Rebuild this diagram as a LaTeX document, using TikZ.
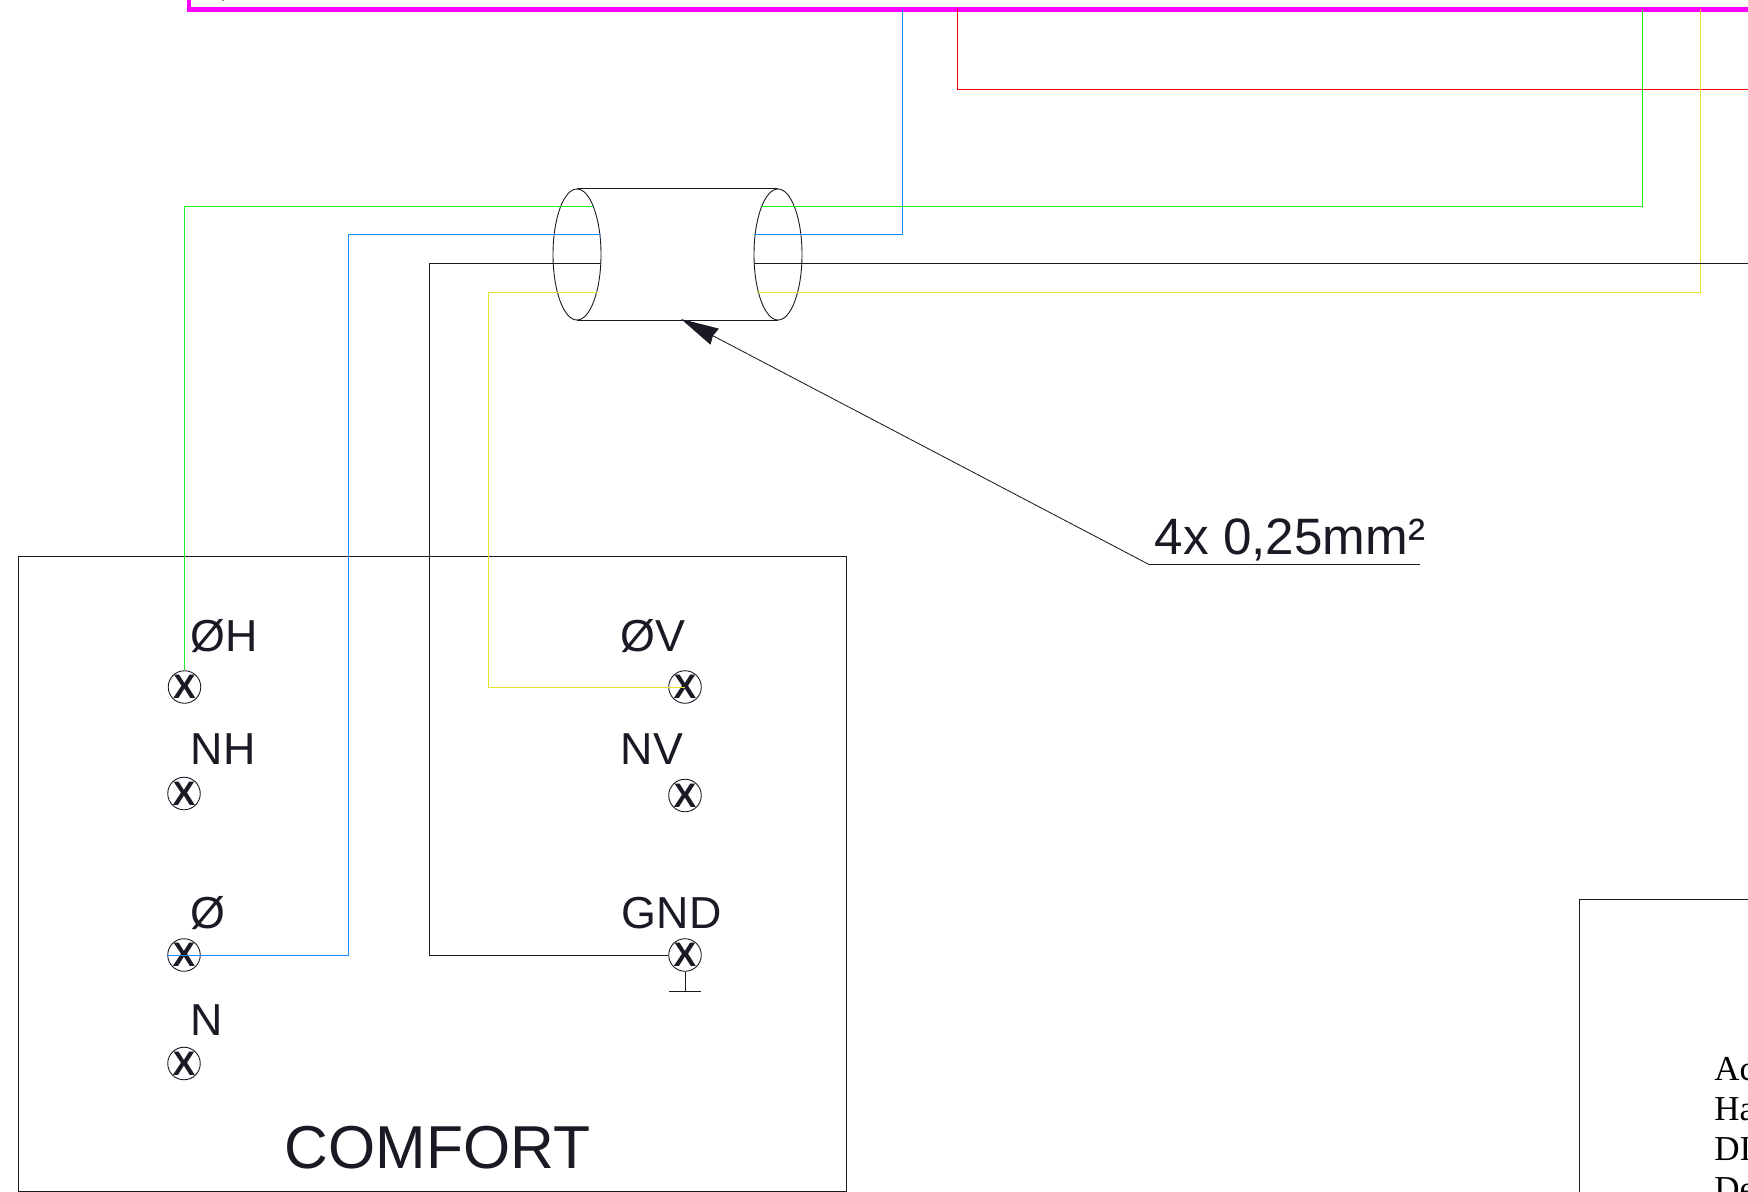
\documentclass[tikz,border=0pt]{standalone}
\usepackage{fontspec}
\setmainfont{Liberation Sans}
\newfontfamily\notefont{Liberation Serif}
\usetikzlibrary{arrows.meta,shapes,positioning,calc}
\definecolor{inkdark}{HTML}{1A1A24}
\definecolor{wiregreen}{HTML}{22F022}
\definecolor{wireblue}{HTML}{1A8CFF}
\definecolor{wireyellow}{HTML}{E2E22A}
\definecolor{busmagenta}{HTML}{FF00FF}
\tikzset{
  wire/.style={line width=0.42pt},
  term/.style={circle,draw=inkdark,line width=0.45pt,minimum size=16pt,inner sep=0pt,text=inkdark,font=\bfseries\fontsize{17}{17}\selectfont},
  pin/.style={anchor=base west,inner sep=0pt,text=inkdark,font=\fontsize{22.4}{23}\selectfont},
  sleeve/.style={ellipse,draw=inkdark,line width=0.45pt,minimum width=24pt,minimum height=65.5pt,inner sep=0pt},
  note/.style={anchor=base west,inner sep=0pt,text=black,font=\notefont\fontsize{17.5}{18}\selectfont}
}
\begin{document}
\begin{tikzpicture}[x=0.5pt,y=-0.5pt]
\path[use as bounding box,clip] (0,0) rectangle (1748,1192);

% bus tapping points
\coordinate (bus0) at (189,-5);
\coordinate (bus1) at (189,9.5);
\coordinate (bus2) at (1760,9.5);
\coordinate (tapb) at (902,9);
\coordinate (tapr) at (957,9);
\coordinate (tapg) at (1642.5,9);
\coordinate (tapy) at (1700.5,9);
\coordinate (redend) at (1760,89.5);
\coordinate (blackend) at (1760,263);

\node[sleeve] (cabl) at (577,254.5) {};
\node[sleeve] (cabr) at (778,254.5) {};

\node[term] (th) at (184.5,687) {X};
\node[term] (tnh) at (184,793.5) {X};
\node[term] (to) at (184,955) {X};
\node[term] (tn) at (184,1063.5) {X};
\node[term] (tv) at (685,687) {X};
\node[term] (tnv) at (685,795.5) {X};
\node[term] (tg) at (685,955) {X};

\node[pin] (lh) at (190.5,651) {ØH};
\node[pin] (lnh) at (190.5,764) {NH};
\node[pin] (lo) at (190.5,928) {Ø};
\node[pin] (ln) at (190.5,1035) {N};
\node[pin] (lv) at (620.5,651) {ØV};
\node[pin] (lnv) at (620.5,764) {NV};
\node[pin] (lg) at (621.5,928) {GND};
\node[pin,font=\fontsize{30.3}{31}\selectfont] (comfort) at (284.5,1168) {COMFORT};

\node[pin,font=\fontsize{25.6}{26}\selectfont] (size) at (1154.5,554) {4x 0,25mm²};

\node[note] (n1) at (1714,1080) {Ac};
\node[note] (n2) at (1714,1120) {Ha};
\node[note] (n3) at (1714,1160) {DI};
\node[note] (n4) at (1714,1200) {De};

% boxes
\coordinate (box1) at (18.5,556.5);
\coordinate (box2) at (846,1191);
\draw[inkdark,wire] (box1) rectangle (box2);
\coordinate (sbox1) at (1760,899);
\coordinate (sbox2) at (1579.5,899);
\coordinate (sbox3) at (1579.5,1200);
\draw[inkdark,wire] (sbox1)--(sbox2)--(sbox3);

\draw[busmagenta,line width=2.4pt,line join=miter] (bus0)--(bus1)--(bus2);
\fill[inkdark] (223,0) circle (1);
\draw[red,wire] (tapr)--(957,89.5)--(redend);

% wires right of the sleeve
\draw[wireblue,wire] (tapb)--(902,234)--(754,234);
\draw[wiregreen,wire] (tapg)--(1642.5,206.5)--(761,206.5);
\draw[wireyellow,wire] (tapy)--(1700.5,292)--(757,292);
\draw[inkdark,wire] (blackend)--(754,263);

% wires left of the sleeve
\draw[wiregreen,wire] (593,206.5)--(184.5,206.5)--(th.north);
\draw[wireblue,wire] (601,234)--(348.5,234)--(348.5,955)--(to.west);
\draw[inkdark,wire] (601,263)--(429,263)--(429,955)--(tg.west);
\draw[wireyellow,wire] (597,292)--(488.5,292)--(488.5,687)--(tv.center);

\draw[inkdark,wire] (cabl.north)--(cabr.north);
\draw[inkdark,wire] (cabl.south)--(cabr.south);

% earth
\coordinate (gndb) at (685,991);
\draw[inkdark,wire] (tg.south)--(gndb);
\draw[inkdark,wire] (669,991)--(701,991);

% leader
\coordinate (ldr) at (1149,564.5);
\coordinate (ldrend) at (1420,564.5);
\coordinate (cabtip) at (681,319);
\draw[inkdark,wire] (ldrend)--(ldr);
\draw[inkdark,wire,-{Stealth[length=19pt,width=9pt,inset=1pt]}] (ldr)--(cabtip);
\end{tikzpicture}
\end{document}
